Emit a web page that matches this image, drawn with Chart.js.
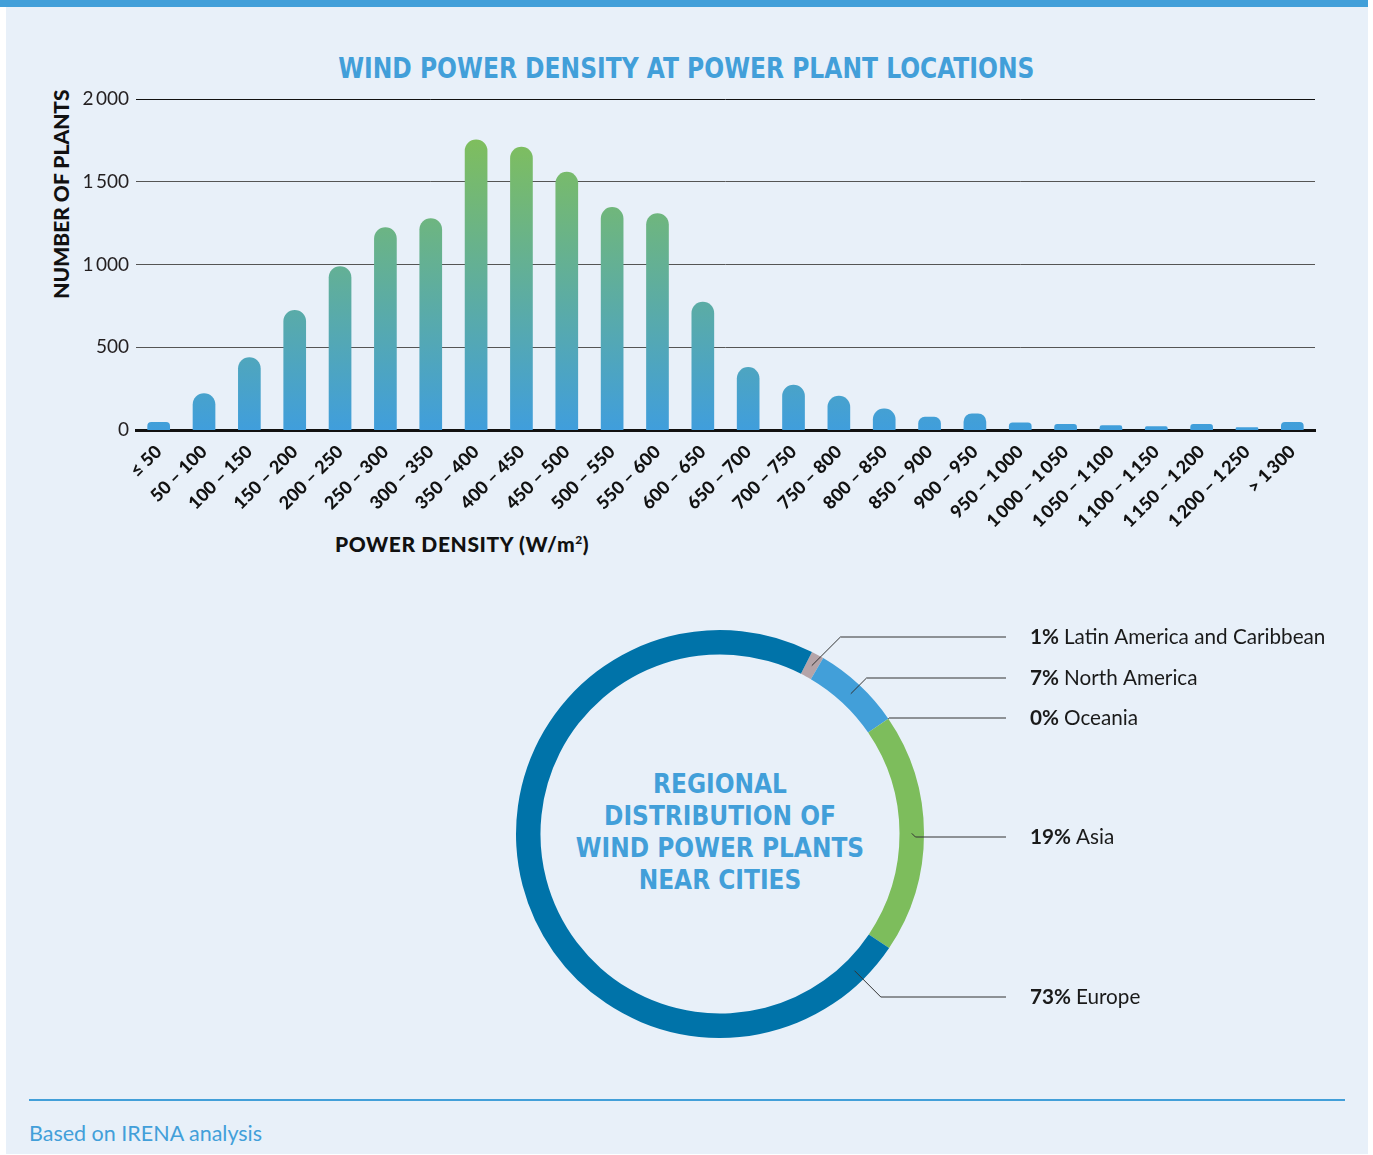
<!DOCTYPE html>
<html>
<head>
<meta charset="utf-8">
<script src="https://cdn.jsdelivr.net/npm/chart.js@4.4.1/dist/chart.umd.min.js"></script>
<style>
  body { margin: 0; background: #fff; width: 1373px; height: 1155px; position: relative; overflow: hidden; font-family: Lato, "Open Sans", sans-serif; }
  .panel { position: absolute; left: 6px; top: 0; width: 1362px; height: 1154px; background: #e8f0f9; }
  .topbar { position: absolute; left: 0; top: 0; width: 1368px; height: 7px; background: #429fd9; }
  .title { position: absolute; left: 0; width: 1373px; top: 52px; text-align: center; color: #429fd9;
           font: bold 28px "Liberation Sans Narrow", "DejaVu Sans Condensed", sans-serif;
           transform: scaleX(0.93); transform-origin: 684px 0; }
  .ytitle { position: absolute; left: 60px; top: 194px; transform: translate(-50%, -50%) rotate(-90deg);
            font: 900 21px Lato, sans-serif; color: #111; white-space: nowrap; }
  .xtitle { position: absolute; left: 335px; top: 531px; font: 900 21px Lato, sans-serif; letter-spacing: 0.6px; color: #111; white-space: nowrap; }
  .xtitle sup { font-size: 12px; }
  .center { position: absolute; left: 520px; width: 400px; top: 768px; text-align: center; color: #429fd9;
            font: bold 27px "Liberation Sans Narrow", "DejaVu Sans Condensed", sans-serif; line-height: 32px;
            transform: scaleX(0.96); transform-origin: 200px 0; }
  .footline { position: absolute; left: 29px; top: 1099px; width: 1316px; height: 2px; background: #429fd9; }
  .source { position: absolute; left: 29px; top: 1120px; font: 21.5px Lato, sans-serif; color: #429fd9; }
  #bars { position: absolute; left: 0; top: 0; }
  #ring { position: absolute; left: 500px; top: 600px; }
</style>
</head>
<body>
<div class="panel"></div>
<div class="topbar"></div>
<div class="title">WIND POWER DENSITY AT POWER PLANT LOCATIONS</div>
<div class="ytitle">NUMBER OF PLANTS</div>
<div class="xtitle">POWER DENSITY (W/m<sup>2</sup>)</div>
<div class="center">REGIONAL<br>DISTRIBUTION OF<br>WIND POWER PLANTS<br>NEAR CITIES</div>
<div class="footline"></div>
<div class="source">Based on IRENA analysis</div>

<canvas id="bars" width="1373" height="600"></canvas>
<canvas id="ring" width="873" height="470"></canvas>

<script>
// --- data ---
const densityBins = ['\u2264 50', '50 \u2013 100', '100 \u2013 150', '150 \u2013 200', '200 \u2013 250', '250 \u2013 300',
  '300 \u2013 350', '350 \u2013 400', '400 \u2013 450', '450 \u2013 500', '500 \u2013 550', '550 \u2013 600',
  '600 \u2013 650', '650 \u2013 700', '700 \u2013 750', '750 \u2013 800', '800 \u2013 850', '850 \u2013 900',
  '900 \u2013 950', '950 \u2013 1\u2009000', '1\u2009000 \u2013 1\u2009050', '1\u2009050 \u2013 1\u2009100',
  '1\u2009100 \u2013 1\u2009150', '1\u2009150 \u2013 1\u2009200', '1\u2009200 \u2013 1\u2009250', '> 1\u2009300'];
const plantCounts = [48, 222, 440, 725, 990, 1225, 1280, 1755, 1712, 1560, 1347, 1310,
  775, 380, 274, 207, 130, 80, 100, 45, 36, 28, 22, 36, 16, 48];
const yTicks = [0, 500, 1000, 1500, 2000];

const regions = ['Latin America and Caribbean', 'North America', 'Oceania', 'Asia', 'Europe'];
const regionShares = [1, 7, 0, 19, 73];

// label rows on the right of the ring
const labelRowsY = [637, 678, 718, 837, 997];

Chart.defaults.animation = false;
Chart.defaults.font.family = 'Lato, "Open Sans", sans-serif';
Chart.defaults.color = '#231f20';

function fmtThousands(v) {
  return v >= 1000 ? Math.floor(v / 1000) + '\u2009' + String(v % 1000).padStart(3, '0') : String(v);
}

function barGradient(context) {
  const chart = context.chart;
  const area = chart.chartArea;
  if (!area) return '#429fd9';
  const y = chart.scales.y;
  const g = chart.ctx.createLinearGradient(0, y.getPixelForValue(0), 0, y.getPixelForValue(1760));
  g.addColorStop(0, '#409edc');
  g.addColorStop(1, '#7fbe5d');
  return g;
}

new Chart(document.getElementById('bars'), {
  type: 'bar',
  data: {
    labels: densityBins,
    datasets: [{
      data: plantCounts,
      backgroundColor: barGradient,
      borderWidth: 0,
      borderRadius: { topLeft: 12, topRight: 12, bottomLeft: 0, bottomRight: 0 },
      borderSkipped: false,
      barPercentage: 0.5,
      categoryPercentage: 1
    }]
  },
  options: {
    responsive: false,
    layout: { padding: { top: 99, left: 0, right: 58, bottom: 20 } },
    plugins: { legend: { display: false }, tooltip: { enabled: false } },
    scales: {
      x: {
        grid: { display: false },
        border: { display: true, color: '#111', width: 3 },
        ticks: {
          autoSkip: false, minRotation: 45, maxRotation: 45, padding: 3,
          font: { size: 18, weight: 900 }, color: '#111'
        },
        afterFit: s => { s.height = 150; }
      },
      y: {
        min: 0, max: 2000,
        afterBuildTicks: s => { s.ticks = yTicks.map(v => ({ value: v })); },
        grid: {
          drawTicks: false,
          color: c => (c.tick && c.tick.value === 2000) ? '#111' : '#555',
          lineWidth: c => (c.tick && c.tick.value === 0) ? 0 : 1
        },
        border: { display: false },
        ticks: { padding: 7, font: { size: 19 }, color: '#231f20', callback: v => fmtThousands(v) },
        afterFit: s => { s.width = 136; }
      }
    }
  }
});

// leader lines + labels for the ring
const leaderPlugin = {
  id: 'leaders',
  afterDatasetsDraw(chart) {
    const ctx = chart.ctx;
    const meta = chart.getDatasetMeta(0);
    const offX = 500, offY = 600;
    const lineEnd = 1006 - offX, textX = 1030 - offX;
    ctx.save();
    meta.data.forEach((arc, i) => {
      const p = arc.getProps(['x', 'y', 'startAngle', 'endAngle', 'innerRadius', 'outerRadius'], true);
      let ang, r;
      if (regionShares[i] === 0) {
        ang = p.startAngle; r = p.outerRadius;
      } else if (p.endAngle - p.startAngle > Math.PI) {
        ang = p.startAngle + 0.2; r = (p.innerRadius + p.outerRadius) / 2;
      } else {
        ang = (p.startAngle + p.endAngle) / 2; r = (p.innerRadius + p.outerRadius) / 2;
      }
      const ax = p.x + Math.cos(ang) * r;
      const ay = p.y + Math.sin(ang) * r;
      const ly = labelRowsY[i] - offY;
      const ex = ax + Math.abs(ly - ay);
      ctx.strokeStyle = '#333';
      ctx.lineWidth = 1;
      ctx.beginPath();
      ctx.moveTo(ax, ay);
      ctx.lineTo(ex, ly);
      ctx.lineTo(lineEnd, ly);
      ctx.stroke();

      ctx.textBaseline = 'middle';
      ctx.textAlign = 'left';
      ctx.fillStyle = '#1a1a1a';
      ctx.font = 'bold 20.7px Lato, sans-serif';
      const pct = regionShares[i] + '%';
      ctx.fillText(pct, textX, ly);
      const w = ctx.measureText(pct + ' ').width;
      ctx.font = '20.7px Lato, sans-serif';
      ctx.fillText(regions[i], textX + w, ly);
    });
    ctx.restore();
  }
};

new Chart(document.getElementById('ring'), {
  type: 'doughnut',
  data: {
    labels: regions,
    datasets: [{
      data: regionShares,
      backgroundColor: ['#b5a4a8', '#429fd9', '#8a9fb0', '#7dbd5c', '#0073a9'],
      borderWidth: 0
    }]
  },
  options: {
    responsive: false,
    rotation: 26.8,
    cutout: '88%',
    layout: { padding: { left: 16, right: 449, top: 30, bottom: 32 } },
    plugins: { legend: { display: false }, tooltip: { enabled: false } }
  },
  plugins: [leaderPlugin]
});
</script>
</body>
</html>
